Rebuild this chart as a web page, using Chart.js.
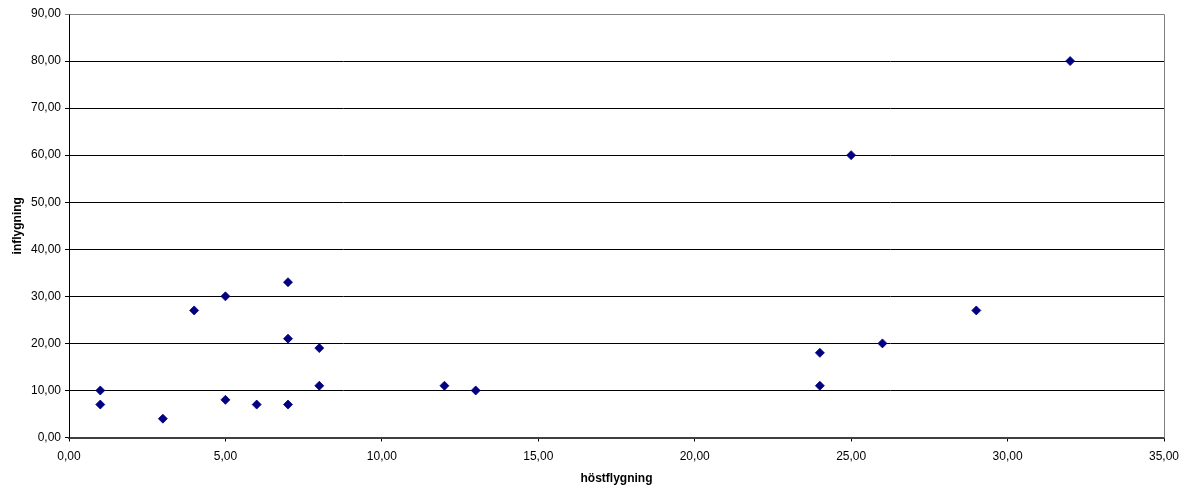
<!DOCTYPE html>
<html>
<head>
<meta charset="utf-8">
<script src="https://cdn.jsdelivr.net/npm/chart.js@4/dist/chart.umd.min.js"></script>
<style>
  html, body { margin: 0; padding: 0; background: #fff; }
  #wrap { width: 1189px; height: 489px; position: relative; }
</style>
</head>
<body>
<div id="wrap"><canvas id="c" width="1189" height="489"></canvas></div>
<script>
// Observations: autumn flights (x) against inbound flights (y)
const hostflygning = [1, 1, 3, 4, 5, 5, 6, 7, 7, 7, 8, 8, 12, 13, 24, 24, 25, 26, 29, 32];
const inflygning   = [10, 7, 4, 27, 30, 8, 7, 33, 21, 7, 19, 11, 11, 10, 18, 11, 60, 20, 27, 80];

const xTitle = 'höstflygning';
const yTitle = 'inflygning';
const xRange = [0, 35, 5];
const yRange = [0, 90, 10];

const points = hostflygning.map((x, i) => ({ x: x, y: inflygning[i] }));
const fmt = v => Number(v).toFixed(2).replace('.', ',');

// Grey frame along the top and right of the plot area
const plotFrame = {
  id: 'plotFrame',
  beforeDatasetsDraw(chart) {
    const { ctx, chartArea: a } = chart;
    ctx.save();
    ctx.strokeStyle = '#808080';
    ctx.lineWidth = 1;
    ctx.beginPath();
    ctx.moveTo(Math.round(a.left) + 0.5, Math.round(a.top) + 0.5);
    ctx.lineTo(Math.round(a.right) + 0.5, Math.round(a.top) + 0.5);
    ctx.lineTo(Math.round(a.right) + 0.5, Math.round(a.bottom));
    ctx.stroke();
    ctx.restore();
  }
};

Chart.defaults.font.family = '"Liberation Sans", Arial, sans-serif';
Chart.defaults.font.size = 12;
Chart.defaults.color = '#000';

new Chart(document.getElementById('c'), {
  type: 'scatter',
  data: {
    datasets: [{
      data: points,
      pointStyle: 'rectRot',
      pointRadius: 4.5,
      pointBorderWidth: 0.8,
      backgroundColor: '#000080',
      borderColor: '#000080'
    }]
  },
  options: {
    responsive: false,
    animation: false,
    layout: { padding: { left: 0, top: 14, right: 25, bottom: 0 } },
    plugins: { legend: { display: false }, tooltip: { enabled: false } },
    scales: {
      x: {
        type: 'linear',
        min: xRange[0], max: xRange[1],
        afterFit(s) { s.height = 51.5; },
        ticks: { stepSize: xRange[2], padding: 8, callback: fmt, maxRotation: 0 },
        grid: { drawOnChartArea: false, drawTicks: true, tickLength: 4, color: '#000' },
        border: { color: '#404040', width: 2 },
        title: { display: true, text: xTitle, font: { weight: 'bold', size: 12 }, padding: { top: 4, bottom: 3 } }
      },
      y: {
        type: 'linear',
        min: yRange[0], max: yRange[1],
        afterFit(s) { s.width = 69; },
        ticks: { stepSize: yRange[2], padding: 4, callback: fmt },
        grid: {
          drawOnChartArea: true, drawTicks: true, tickLength: 4,
          color: ctx => (ctx.tick && ctx.tick.value === yRange[1]) ? '#808080' : '#000'
        },
        border: { color: '#000', width: 1 },
        title: { display: true, text: yTitle, font: { weight: 'bold', size: 12 }, padding: { top: 10, bottom: 4 } }
      }
    }
  },
  plugins: [plotFrame]
});
</script>
</body>
</html>
